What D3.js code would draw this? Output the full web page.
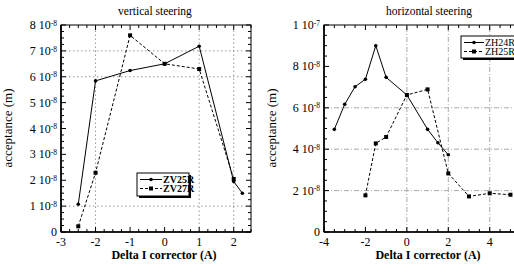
<!DOCTYPE html>
<html><head><meta charset="utf-8">
<script src="https://cdn.jsdelivr.net/npm/d3@7"></script>
<style>
html body svg#c text, html body svg#c tspan { font-family: "Liberation Serif", "Times New Roman", serif !important; }
</style>
</head>
<body style="margin:0;background:#fff">
<svg id="c" width="514" height="272"></svg>
<script>
// ---- data ----
const zv25rX = [-2.5, -2, -1, 0, 1, 2, 2.25];
const zv25rY = [1.07e-8, 5.84e-8, 6.24e-8, 6.5e-8, 7.18e-8, 1.95e-8, 1.5e-8];
const zv27rX = [-2.5, -2, -1, 0, 1, 2];
const zv27rY = [0.22e-8, 2.29e-8, 7.6e-8, 6.5e-8, 6.3e-8, 2.05e-8];
const zh24rX = [-3.5, -3, -2.5, -2, -1.5, -1, 0, 1, 1.5, 2];
const zh24rY = [4.96e-8, 6.17e-8, 7.02e-8, 7.38e-8, 9.0e-8, 7.47e-8, 6.62e-8, 4.96e-8, 4.31e-8, 3.73e-8];
const zh25rX = [-2, -1.5, -1, 0, 1, 2, 3, 4, 5];
const zh25rY = [1.77e-8, 4.28e-8, 4.59e-8, 6.62e-8, 6.89e-8, 2.83e-8, 1.72e-8, 1.87e-8, 1.80e-8];

const leftXTicks = [-3, -2, -1, 0, 1, 2];
const leftYTicks = [0, 1, 2, 3, 4, 5, 6, 7, 8];        // × 10^-8
const rightXTicks = [-4, -2, 0, 2, 4];
const rightYTicks = [0, 2, 4, 6, 8, 10];               // × 10^-8
const leftGridX = [-2, 1, 2], leftGridY = [1, 6, 7];
const rightGridX = [0, 2, 4], rightGridY = [2, 4, 6];

const FONT = '"Liberation Serif", "Times New Roman", serif';
const svg = d3.select("#c").style("font-family", FONT, "important");

function txt(sel) { return sel.append("text").style("font-family", FONT, "important"); }

function yLabel(t, exp, mant) {
  if (mant === 0) { t.text("0"); return; }
  t.text(null);
  t.append("tspan").style("font-family", FONT, "important").text(mant + " 10");
  t.append("tspan").style("font-family", FONT, "important").attr("dy", "-0.45em").style("font-size", "7.5px").text(exp);
}

function panel(o) {
  const g = svg.append("g");
  const x = d3.scaleLinear().domain(o.xDom).range(o.xRange);
  const y = d3.scaleLinear().domain(o.yDom).range(o.yRange);
  const [x0, x1] = o.xRange, [y0, y1] = o.yRange;
  const cl = "clip" + o.id;
  g.append("clipPath").attr("id", cl).append("rect")
    .attr("x", x0).attr("y", y1).attr("width", x1 - x0).attr("height", y0 - y1);

  // grid
  const grid = g.append("g").attr("stroke", o.gridColor).attr("stroke-width", 1)
    .attr("stroke-dasharray", o.gridDash).attr("fill", "none");
  o.gridX.forEach(v => grid.append("line").attr("x1", x(v)).attr("x2", x(v)).attr("y1", y0).attr("y2", y1));
  o.gridY.forEach(v => grid.append("line").attr("x1", x0).attr("x2", x1).attr("y1", y(v * 1e-8)).attr("y2", y(v * 1e-8)));

  // minor/major ticks inward on all four sides
  const tk = g.append("g").attr("stroke", "#000").attr("stroke-width", 1);
  d3.range(o.xDom[0], o.xDom[1] + 1e-9, o.xMinorStep).forEach(v => {
    const isMaj = o.xTicks.some(t => Math.abs(t - v) < 1e-9);
    const L = isMaj ? 5 : 3;
    tk.append("line").attr("x1", x(v)).attr("x2", x(v)).attr("y1", y0).attr("y2", y0 - L);
    tk.append("line").attr("x1", x(v)).attr("x2", x(v)).attr("y1", y1).attr("y2", y1 + L);
  });
  d3.range(o.yDom[0], o.yDom[1] + 1e-17, o.yMinorStep).forEach(v => {
    const isMaj = o.yTicks.some(t => Math.abs(t * 1e-8 - v) < 1e-12);
    const L = isMaj ? 5 : 3;
    tk.append("line").attr("x1", x0).attr("x2", x0 + L).attr("y1", y(v)).attr("y2", y(v));
    tk.append("line").attr("x1", x1).attr("x2", x1 - L).attr("y1", y(v)).attr("y2", y(v));
  });

  // frame
  g.append("rect").attr("x", x0).attr("y", y1).attr("width", x1 - x0).attr("height", y0 - y1)
    .attr("fill", "none").attr("stroke", "#000").attr("stroke-width", 1);
  g.append("line").attr("x1", x0).attr("x2", x0).attr("y1", y1).attr("y2", y0)
    .attr("stroke", "#000").attr("stroke-width", 1.6);
  g.append("line").attr("x1", x0).attr("x2", x1).attr("y1", y0).attr("y2", y0)
    .attr("stroke", "#000").attr("stroke-width", 1.4);

  // tick labels
  const xl = g.append("g");
  o.xTicks.forEach(d => txt(xl).attr("x", x(d)).attr("y", y0 + 14).attr("text-anchor", "middle")
    .style("font-size", "12px").text(d));
  const yl = g.append("g");
  o.yTicks.forEach(d => {
    const t = txt(yl).attr("x", x0 - 4).attr("y", y(d * 1e-8) + 4).attr("text-anchor", "end")
      .style("font-size", "12px");
    o.fmt(t, d);
  });

  // series
  const data = g.append("g").attr("clip-path", `url(#${cl})`);
  o.series.forEach(s => {
    const pts = s.xs.map((v, i) => [v, s.ys[i]]);
    data.append("path").datum(pts)
      .attr("d", d3.line().x(d => x(d[0])).y(d => y(d[1])))
      .attr("fill", "none").attr("stroke", "#000").attr("stroke-width", 1)
      .attr("stroke-dasharray", s.dash || null);
    pts.forEach(p => {
      if (s.marker === "circle")
        data.append("circle").attr("cx", x(p[0])).attr("cy", y(p[1])).attr("r", 1.8).attr("fill", "#000");
      else
        data.append("rect").attr("x", x(p[0]) - 2).attr("y", y(p[1]) - 2).attr("width", 4).attr("height", 4).attr("fill", "#000");
    });
  });

  // titles
  txt(g).attr("x", o.titleX).attr("y", 15).attr("text-anchor", "middle")
    .style("font-size", "11.5px").text(o.title);
  txt(g).attr("x", o.xLabX).attr("y", 259).attr("text-anchor", "middle")
    .style("font-size", "12px").style("font-weight", "bold").text("Delta I corrector (A)");
  txt(g).attr("transform", `translate(${o.yLabX},${o.yLabY}) rotate(-90)`)
    .attr("text-anchor", "middle").style("font-size", "13px").text("acceptance (m)");

  // legend
  const L = o.legend;
  const lg = g.append("g");
  lg.append("rect").attr("x", L.x + 2).attr("y", L.y + 2).attr("width", L.w).attr("height", L.h).attr("fill", "#000");
  lg.append("rect").attr("x", L.x).attr("y", L.y).attr("width", L.w).attr("height", L.h)
    .attr("fill", "#fff").attr("stroke", "#000").attr("stroke-width", 1);
  o.series.forEach((s, i) => {
    const yy = L.y + 6.5 + i * 9;
    lg.append("line").attr("x1", L.x + 3).attr("x2", L.x + 3 + L.lw).attr("y1", yy).attr("y2", yy)
      .attr("stroke", "#000").attr("stroke-dasharray", s.dash || null);
    const mx = L.x + 3 + L.lw / 2;
    if (s.marker === "circle") lg.append("circle").attr("cx", mx).attr("cy", yy).attr("r", 1.8);
    else lg.append("rect").attr("x", mx - 2).attr("y", yy - 2).attr("width", 4).attr("height", 4);
    txt(lg).attr("x", L.x + 4 + L.lw).attr("y", yy + 3.5).style("font-size", "10px")
      .style("font-weight", L.bold ? "bold" : "normal").text(s.name);
  });
}

panel({
  id: "L", xDom: [-3, 2.5], xRange: [61, 251], yDom: [0, 8e-8], yRange: [232, 25],
  xTicks: leftXTicks, yTicks: leftYTicks, xMinorStep: 0.25, yMinorStep: 0.25e-8,
  gridX: leftGridX, gridY: leftGridY, gridColor: "#999", gridDash: "1.5,2.5",
  fmt: (t, d) => yLabel(t, "-8", d),
  title: "vertical steering", titleX: 155, xLabX: 164, yLabX: 12, yLabY: 128,
  series: [
    { name: "ZV25R", xs: zv25rX, ys: zv25rY, marker: "circle" },
    { name: "ZV27R", xs: zv27rX, ys: zv27rY, marker: "square", dash: "3,2" }
  ],
  legend: { x: 137, y: 173, w: 52, h: 23, lw: 22, bold: true }
});

panel({
  id: "R", xDom: [-4, 5.5], xRange: [324, 520.8], yDom: [0, 1e-7], yRange: [232, 25],
  xTicks: rightXTicks, yTicks: rightYTicks, xMinorStep: 0.5, yMinorStep: 0.5e-8,
  gridX: rightGridX, gridY: rightGridY, gridColor: "#aaa", gridDash: "5,2,1,2",
  fmt: (t, d) => d === 10 ? yLabel(t, "-7", 1) : yLabel(t, "-8", d),
  title: "horizontal steering", titleX: 429, xLabX: 428, yLabX: 276, yLabY: 128,
  series: [
    { name: "ZH24R", xs: zh24rX, ys: zh24rY, marker: "circle" },
    { name: "ZH25R", xs: zh25rX, ys: zh25rY, marker: "square", dash: "3,2" }
  ],
  legend: { x: 461, y: 36, w: 60, h: 22, lw: 20, bold: false }
});
</script></body></html>
